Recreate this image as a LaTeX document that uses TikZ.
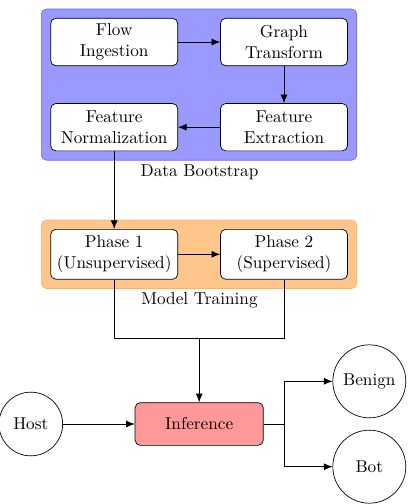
\documentclass[tikz,border=0pt]{standalone}
\usetikzlibrary{arrows.meta,fit,backgrounds}
\begin{document}
\begin{tikzpicture}[x=0.581pt,y=-0.581pt,
  stagebox/.style={draw, fill=white, rounded corners=3pt, align=center, minimum width=73.8pt, minimum height=27.5pt, inner sep=2pt},
  groupbox/.style={rounded corners=3pt, inner sep=5.2pt},
  circnode/.style={draw, circle, minimum size=42.4pt, inner sep=1pt},
  arr/.style={-{Latex[length=5pt,width=4pt]}},
  lbl/.style={inner sep=0pt}
]
\useasboundingbox (0,0) rectangle (411,504);
% Data Bootstrap
\node[stagebox] (flow) at (114.2,42) {Flow\\Ingestion};
\node[stagebox] (graph) at (284,42) {Graph\\Transform};
\node[stagebox] (norm) at (114.2,127.2) {Feature\\Normalization};
\node[stagebox] (extr) at (284,127.2) {Feature\\Extraction};
\begin{scope}[on background layer]
\node[groupbox, fill=blue!40, draw=blue!60, fit=(flow)(graph)(norm)(extr)] (g1) {};
\end{scope}
\node[lbl] (g1l) at (199.5,172) {Data Bootstrap};
% Model Training
\node[stagebox, minimum height=29pt] (p1) at (114.2,254.3) {Phase 1\\(Unsupervised)};
\node[stagebox, minimum height=29pt] (p2) at (284,254.3) {Phase 2\\(Supervised)};
\begin{scope}[on background layer]
\node[groupbox, fill=orange!45, draw=orange!60, fit=(p1)(p2)] (g2) {};
\end{scope}
\node[lbl] (g2l) at (199.5,300.7) {Model Training};
% Inference
\node[draw, fill=red!40, rounded corners=3pt, minimum width=74.5pt, minimum height=24.8pt] (inf) at (199.2,424) {Inference};
\node[circnode, minimum size=37pt] (host) at (30.8,424) {Host};
\node[circnode] (benign) at (369.3,381.3) {Benign};
\node[circnode] (bot) at (369.3,466.7) {Bot};
\coordinate (j) at (199.2,338.7);
\coordinate (s) at (284,424);
% connectors
\draw[arr] (flow) -- (graph);
\draw[arr] (graph) -- (extr);
\draw[arr] (extr) -- (norm);
\draw[arr] (norm) -- (p1);
\draw[arr] (p1) -- (p2);
\draw (p1.south) |- (j) -| (p2.south);
\draw[arr] (j) -- (inf.north);
\draw[arr] (host) -- (inf);
\draw (inf.east) -- (s);
\draw[arr] (s) |- (benign.west);
\draw[arr] (s) |- (bot.west);
\end{tikzpicture}
\end{document}
